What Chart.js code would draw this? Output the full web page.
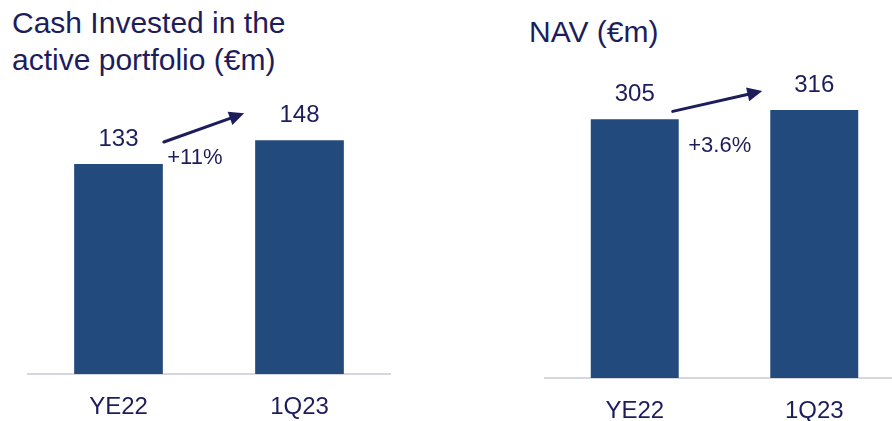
<!DOCTYPE html>
<html>
<head>
<meta charset="utf-8">
<script src="https://cdn.jsdelivr.net/npm/chart.js@4/dist/chart.umd.min.js"></script>
<style>
    html, body { margin: 0; padding: 0; background: #fff; overflow: hidden; }
    body { width: 892px; height: 421px; position: relative; font-family: "Liberation Sans", Arial, sans-serif; }
    .title { position: absolute; color: #1d1d5c; font-size: 30px; line-height: 37px; white-space: nowrap; }
    .box { position: absolute; top: 0; height: 421px; }
</style>
</head>
<body>
<div class="title" style="left:12px; top:4px;">Cash Invested in the<br>active portfolio (€m)</div>
<div class="title" style="left:529px; top:13px;">NAV (€m)</div>
<div class="box" style="left:0; width:446px;"><canvas id="c_cash"></canvas></div>
<div class="box" style="left:446px; width:464px;"><canvas id="c_nav"></canvas></div>

<script>
// Data
const categories = ['YE22', '1Q23']
const cashInvested = [133, 148]
const navValues = [305, 316]
const cashGrowth = '+11%'
const navGrowth = '+3.6%'
// Data EOF

const navy = '#1d1d5c'
const barColor = '#224a7c'
const font = '"Liberation Sans", Arial, sans-serif'

// **** value labels + growth arrow
const annotatePlugin = {
    id: 'annotate',
    afterDatasetsDraw(chart, args, opts) {
        const ctx = chart.ctx
        const bars = chart.getDatasetMeta(0).data
        const values = chart.data.datasets[0].data

        ctx.save()
        ctx.fillStyle = navy
        ctx.textAlign = 'center'
        ctx.textBaseline = 'middle'
        ctx.font = `24px ${font}`
        bars.forEach((b, i) => {
            ctx.fillText(values[i], b.x, b.y - 25)
        })

        // arrow from bar 0 to bar 1
        const b0 = bars[0], b1 = bars[1]
        const x0 = b0.x + b0.width / 2 + opts.from[0]
        const y0 = b0.y + opts.from[1]
        const x1 = b1.x - b1.width / 2 + opts.to[0]
        const y1 = b1.y + opts.to[1]
        const ang = Math.atan2(y1 - y0, x1 - x0)
        const head = 15
        ctx.strokeStyle = navy
        ctx.lineWidth = 3
        ctx.lineCap = 'round'
        ctx.beginPath()
        ctx.moveTo(x0, y0)
        ctx.lineTo(x1 - head * 0.8 * Math.cos(ang), y1 - head * 0.8 * Math.sin(ang))
        ctx.stroke()
        ctx.beginPath()
        ctx.moveTo(x1, y1)
        ctx.lineTo(x1 - head * Math.cos(ang) + 7 * Math.sin(ang), y1 - head * Math.sin(ang) - 7 * Math.cos(ang))
        ctx.lineTo(x1 - head * Math.cos(ang) - 7 * Math.sin(ang), y1 - head * Math.sin(ang) + 7 * Math.cos(ang))
        ctx.closePath()
        ctx.fill()

        ctx.font = `22px ${font}`
        ctx.fillText(opts.label, b0.x + b0.width / 2 + opts.labelAt[0], b0.y + opts.labelAt[1])
        ctx.restore()
    }
}
// **** EOF

function makeChart(id, values, cfg) {
    return new Chart(document.getElementById(id), {
        type: 'bar',
        data: {
            labels: categories,
            datasets: [{
                data: values,
                backgroundColor: barColor,
                borderWidth: 0,
                categoryPercentage: 1,
                barPercentage: 0.49
            }]
        },
        options: {
            responsive: true,
            maintainAspectRatio: false,
            animation: false,
            layout: { padding: cfg.padding },
            plugins: {
                legend: { display: false },
                tooltip: { enabled: false },
                annotate: cfg.annotate
            },
            scales: {
                x: {
                    grid: { display: false, drawTicks: false },
                    border: { display: true, color: '#d6d6de', width: 2 },
                    ticks: { color: navy, padding: 19, font: { family: font, size: 24 } },
                    afterFit: (s) => { s.height = cfg.axisHeight }
                },
                y: { display: false, min: 0, max: cfg.max }
            }
        },
        plugins: [annotatePlugin]
    })
}

makeChart('c_cash', cashInvested, {
    padding: { left: 28, right: 56, top: 74, bottom: 0 },
    axisHeight: 47,
    max: 190,
    annotate: { from: [1, -22], to: [-11, -27], label: cashGrowth, labelAt: [32, -6] }
})

makeChart('c_nav', navValues, {
    padding: { left: 99, right: 6, top: 60, bottom: 0 },
    axisHeight: 43,
    max: 375,
    annotate: { from: [-6, -8], to: [-8, -19], label: navGrowth, labelAt: [41, 27] }
})
</script>
</body>
</html>
